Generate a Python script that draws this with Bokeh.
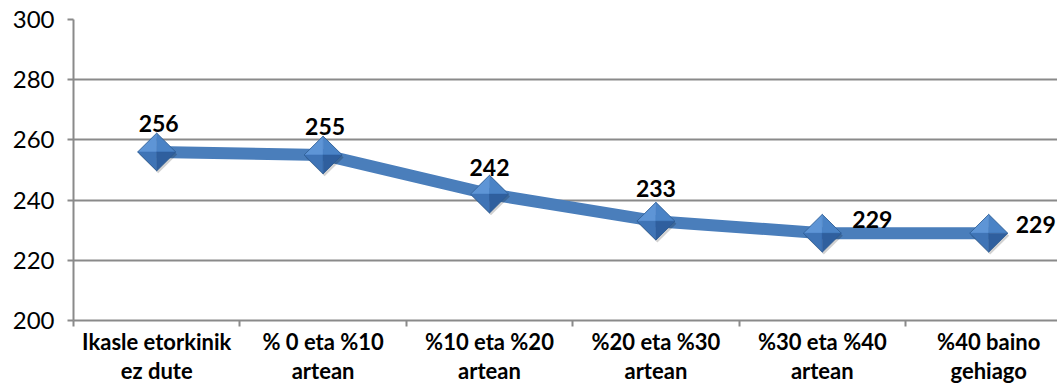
import math
from bokeh.plotting import figure
from bokeh.models import ColumnDataSource, FixedTicker, Range1d
from bokeh.core.properties import value
from bokeh.embed import file_html
from bokeh.resources import INLINE

categories = ["Ikasle etorkinik\nez dute", "% 0 eta %10\nartean", "%10 eta %20\nartean",
              "%20 eta %30\nartean", "%30 eta %40\nartean", "%40 baino\ngehiago"]
values = [256, 255, 242, 233, 229, 229]
y_ticks = [200, 220, 240, 260, 280, 300]

# label placement (styling, not data)
label_dx = [2, 2, 0, 0, 30, 27]
label_dy = [-28, -28, -27, -33, -14, -9]
label_align = ["center", "center", "center", "center", "left", "left"]

W, H = 1057, 387
LEFT, TOP, BOTTOM = 73, 19, 64
STEP = 166.4
Y0, Y1 = 200, 300
PX_PER_Y = (H - TOP - BOTTOM) / (Y1 - Y0)

xs = list(range(len(values)))
src = ColumnDataSource(dict(x=xs, y=values, lab=[str(v) for v in values],
                            dx=label_dx, dy=label_dy, al=label_align))

p = figure(width=W, height=H, output_backend="svg", toolbar_location=None,
           x_range=Range1d(-0.5, -0.5 + (W - LEFT) / STEP), y_range=Range1d(Y0, Y1),
           min_border_left=LEFT, min_border_right=0, min_border_top=TOP, min_border_bottom=BOTTOM)
p.outline_line_color = None
p.background_fill_color = "white"
p.border_fill_color = "white"

grey = "#8a8a8a"
p.xgrid.grid_line_color = None
p.ygrid.grid_line_color = grey
p.ygrid.grid_line_width = 2
p.ygrid.ticker = FixedTicker(ticks=y_ticks)

p.yaxis.ticker = FixedTicker(ticks=y_ticks)
p.yaxis.axis_line_color = grey
p.yaxis.axis_line_width = 2
p.yaxis.major_tick_line_color = grey
p.yaxis.major_tick_line_width = 2
p.yaxis.major_tick_out = 6
p.yaxis.major_tick_in = 0
p.yaxis.minor_tick_line_color = None
p.yaxis.major_label_text_font = "Lato"
p.yaxis.major_label_text_font_size = "24px"
p.yaxis.major_label_text_color = "black"
p.yaxis.major_label_standoff = 13

p.xaxis.ticker = FixedTicker(ticks=xs, minor_ticks=[i - 0.5 for i in range(len(xs) + 1)])
p.xaxis.major_label_overrides = {i: c for i, c in enumerate(categories)}
p.xaxis.axis_line_color = grey
p.xaxis.axis_line_width = 2
p.xaxis.major_tick_line_color = None
p.xaxis.major_tick_out = 0
p.xaxis.major_tick_in = 0
p.xaxis.minor_tick_line_color = grey
p.xaxis.minor_tick_line_width = 2
p.xaxis.minor_tick_out = 6
p.xaxis.minor_tick_in = 0
p.xaxis.major_label_text_font = "Lato"
p.xaxis.major_label_text_font_style = "bold"
p.xaxis.major_label_text_font_size = "22px"
p.xaxis.major_label_text_line_height = 1.1
p.xaxis.major_label_text_color = "black"
p.xaxis.major_label_standoff = 1

p.line("x", "y", source=src, line_color="#4a7ebb", line_width=12, line_join="round")

# bevelled diamond markers built from the data points (half-size in pixels)
R = 19
hw = R / STEP
hh = R / PX_PER_Y
sh_dx, sh_dy = 1.5 / STEP, -2.5 / PX_PER_Y
p.patches([[x + sh_dx - hw, x + sh_dx, x + sh_dx + hw, x + sh_dx] for x in xs],
          [[y + sh_dy, y + sh_dy + hh, y + sh_dy, y + sh_dy - hh] for y in values],
          fill_color="black", fill_alpha=0.18, line_color=None)
facets = [
    ((-1, 0), (0, 1), "#5e95d6"),   # top-left
    ((0, 1), (1, 0), "#4a83c6"),    # top-right
    ((-1, 0), (0, -1), "#3f74b6"),  # bottom-left
    ((0, -1), (1, 0), "#2f5f9e"),   # bottom-right
]
for (a, b, col) in facets:
    p.patches([[x, x + a[0] * hw, x + b[0] * hw] for x in xs],
              [[y, y + a[1] * hh, y + b[1] * hh] for y in values],
              fill_color=col, line_color=col, line_width=0.5)
p.patches([[x - hw, x, x + hw, x] for x in xs],
          [[y, y + hh, y, y - hh] for y in values],
          fill_color=None, line_color="#2c5a8f", line_width=0.8)

p.text("x", "y", text="lab", source=src, x_offset="dx", y_offset="dy",
       text_align="al", text_baseline="middle",
       text_font=value("Lato"), text_font_style="bold", text_font_size="23px",
       text_color="black")

open("out.html", "w").write(file_html(p, INLINE))
